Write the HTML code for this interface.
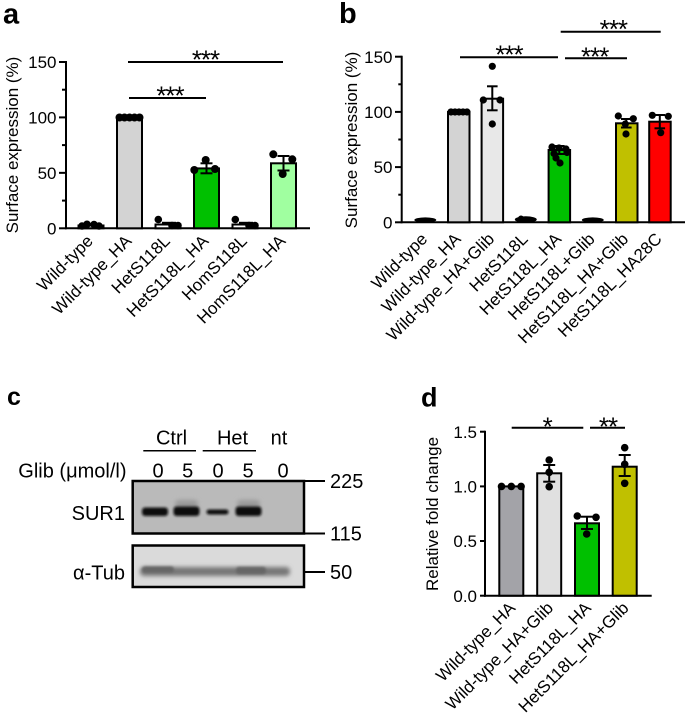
<!DOCTYPE html>
<html><head><meta charset="utf-8"><style>
html,body{margin:0;padding:0;background:#fff;}
svg{display:block;}
text{font-family:"Liberation Sans",Arial,sans-serif;fill:#000;}
.st{font-size:26px;letter-spacing:-1px;}
</style></head><body>
<svg width="685" height="718" viewBox="0 0 685 718" xmlns="http://www.w3.org/2000/svg">
<defs>
<filter id="bl" x="-20%" y="-100%" width="140%" height="300%"><feGaussianBlur stdDeviation="1.2"/></filter>
<filter id="bl2" x="-20%" y="-100%" width="140%" height="300%"><feGaussianBlur stdDeviation="2"/></filter>
</defs>

<!-- ================= PANEL A ================= -->
<text x="3" y="23.5" font-size="29" font-weight="bold">a</text>
<text transform="translate(18,145) rotate(-90)" font-size="17" text-anchor="middle">Surface expression (%)</text>
<g stroke="#000" stroke-width="2" fill="none">
<line x1="66" y1="61" x2="66" y2="229.3"/>
<line x1="65" y1="228.3" x2="310" y2="228.3"/>
<line x1="59" y1="228.3" x2="66" y2="228.3"/>
<line x1="59" y1="172.85" x2="66" y2="172.85"/>
<line x1="59" y1="117.4" x2="66" y2="117.4"/>
<line x1="59" y1="62" x2="66" y2="62"/>
<line x1="62" y1="200.6" x2="66" y2="200.6"/>
<line x1="62" y1="145.1" x2="66" y2="145.1"/>
<line x1="62" y1="89.7" x2="66" y2="89.7"/>
</g>
<g font-size="17" text-anchor="end">
<text x="56.5" y="234.4">0</text>
<text x="56.5" y="179">50</text>
<text x="56.5" y="123.5">100</text>
<text x="56.5" y="68.1">150</text>
</g>
<g stroke="#000" stroke-width="2">
<rect x="117" y="117.4" width="25" height="110.9" fill="#d3d3d3"/>
<rect x="194" y="168.4" width="25" height="59.9" fill="#00c000"/>
<rect x="271" y="163.3" width="25" height="65" fill="#a0ffa0"/>
<rect x="78.5" y="225.5" width="25" height="2.8" fill="#fff"/>
<rect x="155.5" y="224.5" width="25" height="3.8" fill="#fff"/>
<rect x="232.5" y="224.5" width="25" height="3.8" fill="#fff"/>
</g>
<g stroke="#000" stroke-width="2">
<line x1="206.5" y1="163.3" x2="206.5" y2="173.3"/><line x1="200.5" y1="163.3" x2="212.5" y2="163.3"/><line x1="200.5" y1="173.3" x2="212.5" y2="173.3"/>
<line x1="283.5" y1="156" x2="283.5" y2="170.5"/><line x1="277.5" y1="156" x2="289.5" y2="156"/><line x1="277.5" y1="170.5" x2="289.5" y2="170.5"/>
<line x1="162" y1="222.8" x2="176" y2="222.8"/>
<line x1="239" y1="222.8" x2="253" y2="222.8"/>
</g>
<g fill="#000">
<circle cx="119.5" cy="117.5" r="4"/><circle cx="124.5" cy="117.5" r="4"/><circle cx="129.5" cy="117.5" r="4"/><circle cx="134.5" cy="117.5" r="4"/><circle cx="139.5" cy="117.5" r="4"/>
<circle cx="194.3" cy="170" r="4"/><circle cx="205.7" cy="160" r="4"/><circle cx="215" cy="169" r="4"/>
<circle cx="273.3" cy="154.3" r="4"/><circle cx="292.3" cy="159.3" r="4"/><circle cx="282.7" cy="174" r="4"/>
<circle cx="82" cy="226" r="3.8"/><circle cx="87" cy="224.3" r="3.8"/><circle cx="94" cy="224.5" r="3.8"/><circle cx="99" cy="226" r="3.8"/>
<circle cx="158.3" cy="219.5" r="3.8"/><circle cx="172" cy="225.5" r="3.8"/><circle cx="178" cy="225.5" r="3.8"/>
<circle cx="235.3" cy="219.5" r="3.8"/><circle cx="249" cy="225.5" r="3.8"/><circle cx="255" cy="225.5" r="3.8"/>
</g>
<g stroke="#000" stroke-width="2">
<line x1="128" y1="62" x2="283" y2="62"/>
<line x1="129" y1="98" x2="206" y2="98"/>
</g>
<g class="st" text-anchor="middle">
<text x="205.5" y="68.6">***</text>
<text x="170" y="104.3">***</text>
</g>
<g font-size="17" text-anchor="end">
<text transform="translate(94,242) rotate(-45)">Wild-type</text>
<text transform="translate(132.5,242) rotate(-45)">Wild-type_HA</text>
<text transform="translate(171,242) rotate(-45)">HetS118L</text>
<text transform="translate(209.5,242) rotate(-45)">HetS118L_HA</text>
<text transform="translate(248,242) rotate(-45)">HomS118L</text>
<text transform="translate(286.5,242) rotate(-45)">HomS118L_HA</text>
</g>

<!-- ================= PANEL B ================= -->
<text x="339" y="23" font-size="29" font-weight="bold">b</text>
<text transform="translate(357,140) rotate(-90)" font-size="17" text-anchor="middle">Surface expression (%)</text>
<g stroke="#000" stroke-width="2" fill="none">
<line x1="401.7" y1="55.7" x2="401.7" y2="223.3"/>
<line x1="400.7" y1="222.3" x2="685" y2="222.3"/>
<line x1="395" y1="222.3" x2="401.7" y2="222.3"/>
<line x1="395" y1="167.1" x2="401.7" y2="167.1"/>
<line x1="395" y1="111.9" x2="401.7" y2="111.9"/>
<line x1="395" y1="56.7" x2="401.7" y2="56.7"/>
<line x1="398.3" y1="194.7" x2="401.7" y2="194.7"/>
<line x1="398.3" y1="139.5" x2="401.7" y2="139.5"/>
<line x1="398.3" y1="84.3" x2="401.7" y2="84.3"/>
</g>
<g font-size="17" text-anchor="end">
<text x="392.5" y="228.4">0</text>
<text x="392.5" y="173.2">50</text>
<text x="392.5" y="118">100</text>
<text x="392.5" y="62.8">150</text>
</g>
<g stroke="#000" stroke-width="2">
<rect x="448" y="111.9" width="21.5" height="110.4" fill="#d3d3d3"/>
<rect x="481.6" y="98.7" width="21.5" height="123.6" fill="#e8e8e8"/>
<rect x="548.6" y="150" width="21.5" height="72.3" fill="#00c000"/>
<rect x="616" y="123.3" width="21.5" height="99" fill="#c0c000"/>
<rect x="649.2" y="121.7" width="21.5" height="100.6" fill="#ff0000"/>
</g>
<g stroke="#000" stroke-width="2">
<line x1="492.3" y1="86.3" x2="492.3" y2="110.3"/><line x1="487" y1="86.3" x2="497.6" y2="86.3"/><line x1="487" y1="110.3" x2="497.6" y2="110.3"/>
<line x1="559.3" y1="146" x2="559.3" y2="154"/><line x1="554" y1="146" x2="564.6" y2="146"/><line x1="554" y1="154" x2="564.6" y2="154"/>
<line x1="626.3" y1="119" x2="626.3" y2="127.5"/><line x1="621" y1="119" x2="631.6" y2="119"/><line x1="621" y1="127.5" x2="631.6" y2="127.5"/>
<line x1="659.8" y1="115" x2="659.8" y2="128.3"/><line x1="654.5" y1="115" x2="665.1" y2="115"/><line x1="654.5" y1="128.3" x2="665.1" y2="128.3"/>
</g>
<g fill="#000">
<circle cx="451" cy="112" r="3.6"/><circle cx="455" cy="112" r="3.6"/><circle cx="459" cy="112" r="3.6"/><circle cx="463" cy="112" r="3.6"/><circle cx="467" cy="112" r="3.6"/>
<rect x="448.5" y="109" width="20.5" height="4"/>
<circle cx="492.3" cy="66.3" r="3.6"/><circle cx="483.3" cy="100" r="3.6"/><circle cx="500" cy="100" r="3.6"/><circle cx="492.3" cy="124" r="3.6"/>
<circle cx="552" cy="147" r="3.6"/><circle cx="559" cy="148" r="3.6"/><circle cx="566" cy="149" r="3.6"/><circle cx="554" cy="153.5" r="3.6"/><circle cx="567" cy="152.5" r="3.6"/><circle cx="556" cy="158" r="3.6"/><circle cx="560" cy="163" r="3.6"/>
<circle cx="618.3" cy="116" r="3.6"/><circle cx="633.3" cy="118.7" r="3.6"/><circle cx="625.3" cy="124" r="3.6"/><circle cx="626" cy="134" r="3.6"/>
<circle cx="652.3" cy="115.3" r="3.6"/><circle cx="668.3" cy="116.3" r="3.6"/><circle cx="660.7" cy="132.7" r="3.6"/>
<ellipse cx="425.3" cy="220" rx="11" ry="2.6"/>
<ellipse cx="525.8" cy="219.5" rx="11" ry="3.2"/><circle cx="521" cy="218.5" r="3"/>
<ellipse cx="592.8" cy="220" rx="11" ry="2.6"/>
</g>
<g stroke="#000" stroke-width="2">
<line x1="460" y1="57.3" x2="558" y2="57.3"/>
<line x1="565" y1="58.3" x2="627" y2="58.3"/>
<line x1="560.7" y1="31.7" x2="660.7" y2="31.7"/>
</g>
<g class="st" text-anchor="middle">
<text x="509" y="63.6">***</text>
<text x="594.7" y="65.3">***</text>
<text x="613.3" y="38">***</text>
</g>
<g font-size="17" text-anchor="end">
<text transform="translate(428.3,240) rotate(-45)">Wild-type</text>
<text transform="translate(461.8,240) rotate(-45)">Wild-type_HA</text>
<text transform="translate(495.3,240) rotate(-45)">Wild-type_HA+Glib</text>
<text transform="translate(528.8,240) rotate(-45)">HetS118L</text>
<text transform="translate(562.3,240) rotate(-45)">HetS118L_HA</text>
<text transform="translate(595.8,240) rotate(-45)">HetS118L+Glib</text>
<text transform="translate(629.3,240) rotate(-45)">HetS118L_HA+Glib</text>
<text transform="translate(662.8,240) rotate(-45)">HetS118L_HA28C</text>
</g>

<!-- ================= PANEL C ================= -->
<text x="7" y="405" font-size="25" font-weight="bold">c</text>
<g font-size="20" text-anchor="middle">
<text x="171.5" y="444.3">Ctrl</text>
<text x="232.5" y="444.3">Het</text>
<text x="279" y="444.3">nt</text>
<text x="158" y="477.5">0</text>
<text x="187.7" y="477.5">5</text>
<text x="218" y="477.5">0</text>
<text x="248" y="477.5">5</text>
<text x="283" y="477.5">0</text>
</g>
<text x="18.3" y="477.5" font-size="20">Glib (μmol/l)</text>
<g stroke="#000" stroke-width="1.5">
<line x1="143.3" y1="450.7" x2="196" y2="450.7"/>
<line x1="202.7" y1="450.7" x2="256" y2="450.7"/>
</g>
<rect x="132.7" y="481" width="171.3" height="52.5" fill="#bababa" stroke="#000" stroke-width="2.5"/>
<rect x="132.7" y="545.5" width="171.3" height="41.5" fill="#dadada" stroke="#000" stroke-width="2.5"/>
<g filter="url(#bl2)" fill="#9a9a9a">
<rect x="175" y="500" width="23" height="8" rx="4"/>
<rect x="237" y="500" width="23" height="8" rx="4"/>
</g>
<g filter="url(#bl)" fill="#0d0d0d">
<rect x="142" y="507.5" width="26" height="8.5" rx="3"/>
<rect x="173.5" y="506.5" width="26" height="9.5" rx="3"/>
<rect x="206.5" y="509.5" width="22" height="5" rx="2.5"/>
<rect x="235.5" y="506.5" width="26" height="9.5" rx="3"/>
</g>
<g filter="url(#bl2)" fill="#777">
<rect x="140" y="567" width="150" height="9" rx="4"/>
</g>
<g filter="url(#bl)" fill="#666">
<rect x="142" y="566.5" width="32" height="6" rx="3"/>
<rect x="236" y="567" width="30" height="7" rx="3"/>
</g>
<text x="125" y="520" font-size="20" text-anchor="end">SUR1</text>
<text x="125" y="579.5" font-size="20" text-anchor="end">α-Tub</text>
<g stroke="#000" stroke-width="2">
<line x1="304" y1="481" x2="325" y2="481"/>
<line x1="304" y1="533.5" x2="325" y2="533.5"/>
<line x1="304" y1="572" x2="325" y2="572"/>
</g>
<g font-size="20">
<text x="330" y="488">225</text>
<text x="330" y="540.5">115</text>
<text x="330" y="579">50</text>
</g>

<!-- ================= PANEL D ================= -->
<text x="421" y="406.7" font-size="27" font-weight="bold">d</text>
<text transform="translate(438,514) rotate(-90)" font-size="17" text-anchor="middle">Relative fold change</text>
<g stroke="#000" stroke-width="2" fill="none">
<line x1="485" y1="430.7" x2="485" y2="596.7"/>
<line x1="484" y1="595.7" x2="651.7" y2="595.7"/>
<line x1="480" y1="595.7" x2="485" y2="595.7"/>
<line x1="480" y1="541" x2="485" y2="541"/>
<line x1="480" y1="486.4" x2="485" y2="486.4"/>
<line x1="480" y1="431.7" x2="485" y2="431.7"/>
</g>
<g font-size="17" text-anchor="end">
<text x="477" y="601.8">0.0</text>
<text x="477" y="547.1">0.5</text>
<text x="477" y="492.5">1.0</text>
<text x="477" y="437.8">1.5</text>
</g>
<g stroke="#000" stroke-width="2">
<rect x="499.3" y="486.4" width="24" height="109.3" fill="#a3a3a8"/>
<rect x="537.2" y="473.3" width="24" height="122.4" fill="#e0e0e0"/>
<rect x="575" y="523.3" width="24" height="72.4" fill="#00c000"/>
<rect x="612.7" y="466.7" width="24" height="129" fill="#c0c000"/>
</g>
<g stroke="#000" stroke-width="2">
<line x1="549.2" y1="465" x2="549.2" y2="481.7"/><line x1="543.2" y1="465" x2="555.2" y2="465"/><line x1="543.2" y1="481.7" x2="555.2" y2="481.7"/>
<line x1="587" y1="516.7" x2="587" y2="529"/><line x1="581" y1="516.7" x2="593" y2="516.7"/><line x1="581" y1="529" x2="593" y2="529"/>
<line x1="624.7" y1="455" x2="624.7" y2="476"/><line x1="618.7" y1="455" x2="630.7" y2="455"/><line x1="618.7" y1="476" x2="630.7" y2="476"/>
</g>
<g fill="#000">
<circle cx="501.5" cy="486.4" r="3.8"/><circle cx="511.3" cy="486.4" r="3.8"/><circle cx="521.1" cy="486.4" r="3.8"/>
<circle cx="549.2" cy="460" r="3.8"/><circle cx="549.2" cy="472.3" r="3.8"/><circle cx="549.2" cy="486.7" r="3.8"/>
<circle cx="577.3" cy="516" r="3.8"/><circle cx="596" cy="517.3" r="3.8"/><circle cx="586.7" cy="534" r="3.8"/>
<circle cx="624.7" cy="447.7" r="3.8"/><circle cx="624.7" cy="464.3" r="3.8"/><circle cx="624.7" cy="483.3" r="3.8"/>
</g>
<g stroke="#000" stroke-width="2">
<line x1="511.7" y1="427.7" x2="583.3" y2="427.7"/>
<line x1="590" y1="427.7" x2="625" y2="427.7"/>
</g>
<g class="st" text-anchor="middle">
<text x="547.2" y="435.3">*</text>
<text x="608" y="435.3">**</text>
</g>
<g font-size="17" text-anchor="end">
<text transform="translate(516.3,609) rotate(-45)">Wild-type_HA</text>
<text transform="translate(554.2,609) rotate(-45)">Wild-type_HA+Glib</text>
<text transform="translate(592,609) rotate(-45)">HetS118L_HA</text>
<text transform="translate(629.7,609) rotate(-45)">HetS118L_HA+Glib</text>
</g>
</svg>
</body></html>
